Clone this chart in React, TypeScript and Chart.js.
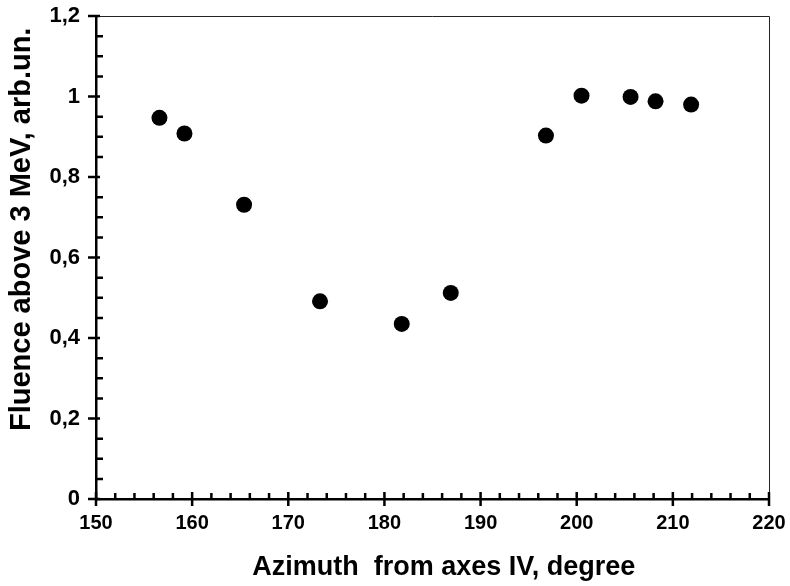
import React, { useEffect, useRef } from "react";
import { Chart, registerables } from "chart.js";

Chart.register(...registerables);

const azimuth = [156.6, 159.2, 165.4, 173.3, 181.8, 186.9, 196.8, 200.5, 205.6, 208.2, 211.9];
const fluence = [0.947, 0.908, 0.731, 0.491, 0.435, 0.512, 0.903, 1.002, 0.999, 0.988, 0.98];

const xMajorTicks = [150, 160, 170, 180, 190, 200, 210, 220];
const xMinorTicks = [
  152, 154, 156, 158, 162, 164, 166, 168, 172, 174, 176, 178, 182, 184, 186, 188,
  192, 194, 196, 198, 202, 204, 206, 208, 212, 214, 216, 218,
];
const yMajorTicks = [0, 0.2, 0.4, 0.6, 0.8, 1.0, 1.2];
const yMinorTicks = [
  0.05, 0.1, 0.15, 0.25, 0.3, 0.35, 0.45, 0.5, 0.55, 0.65, 0.7, 0.75, 0.85, 0.9, 0.95,
  1.05, 1.1, 1.15,
];
const yTickLabels = ["0", "0,2", "0,4", "0,6", "0,8", "1", "1,2"];
const xTickLabels = ["150", "160", "170", "180", "190", "200", "210", "220"];

const xTitle = "Azimuth  from axes IV, degree";
const yTitle = "Fluence above 3 MeV, arb.un.";

const FONT = "'Liberation Sans', Arial, Helvetica, sans-serif";

const tickPlugin = {
  id: "tickMarks",
  afterDraw(chart: any) {
    const { ctx, chartArea } = chart;
    const xs = chart.scales.x;
    const ys = chart.scales.y;
    ctx.save();
    ctx.strokeStyle = "#222";
    ctx.lineWidth = 1;
    ctx.beginPath();
    ctx.moveTo(chartArea.left, chartArea.top + 0.5);
    ctx.lineTo(chartArea.right + 0.5, chartArea.top + 0.5);
    ctx.lineTo(chartArea.right + 0.5, chartArea.bottom);
    ctx.stroke();

    ctx.strokeStyle = "#000";
    ctx.lineWidth = 2.5;
    const by = chartArea.bottom;
    const lx = chartArea.left;
    ctx.beginPath();
    xMajorTicks.forEach((v) => {
      const px = xs.getPixelForValue(v);
      ctx.moveTo(px, by - 7);
      ctx.lineTo(px, by + 7);
    });
    xMinorTicks.forEach((v) => {
      const px = xs.getPixelForValue(v);
      ctx.moveTo(px, by);
      ctx.lineTo(px, by - 6);
    });
    yMajorTicks.forEach((v) => {
      const py = ys.getPixelForValue(v);
      ctx.moveTo(lx - 8, py);
      ctx.lineTo(lx + 4, py);
    });
    yMinorTicks.forEach((v) => {
      const py = ys.getPixelForValue(v);
      ctx.moveTo(lx, py);
      ctx.lineTo(lx + 7, py);
    });
    ctx.stroke();
    ctx.restore();
  },
};

export default function App() {
  const canvasRef = useRef<HTMLCanvasElement | null>(null);

  useEffect(() => {
    document.body.style.margin = "0";
    const canvas = canvasRef.current;
    if (!canvas) return;
    const chart = new Chart(canvas, {
      type: "scatter",
      data: {
        datasets: [
          {
            data: azimuth.map((x, i) => ({ x, y: fluence[i] })),
            backgroundColor: "#000",
            borderColor: "#000",
            borderWidth: 0,
            pointRadius: 8,
            pointHoverRadius: 8,
            showLine: false,
          },
        ],
      },
      options: {
        animation: false,
        responsive: true,
        maintainAspectRatio: false,
        layout: { padding: { top: 16, right: 21, left: 0, bottom: 0 } },
        plugins: {
          legend: { display: false },
          tooltip: { enabled: false },
        },
        scales: {
          x: {
            type: "linear",
            min: 150,
            max: 220,
            afterFit: (s: any) => {
              s.height = 87;
              s.paddingLeft = 0;
              s.paddingRight = 0;
            },
            afterBuildTicks: (s: any) => {
              s.ticks = xMajorTicks.map((v) => ({ value: v }));
            },
            ticks: {
              color: "#000",
              font: { family: FONT, size: 20, weight: "bold" },
              padding: 12,
              maxRotation: 0,
              callback: (_v: any, i: number) => xTickLabels[i],
            },
            grid: { display: false, drawTicks: false },
            border: { display: true, color: "#000", width: 2.5 },
            title: {
              display: true,
              text: "   " + xTitle,
              color: "#000",
              font: { family: FONT, size: 27, weight: "bold" },
              padding: { top: 0, bottom: 2 },
            },
          },
          y: {
            type: "linear",
            min: 0,
            max: 1.2,
            afterFit: (s: any) => {
              s.width = 96;
              s.paddingTop = 0;
              s.paddingBottom = 0;
            },
            afterBuildTicks: (s: any) => {
              s.ticks = yMajorTicks.map((v) => ({ value: v }));
            },
            ticks: {
              color: "#000",
              font: { family: FONT, size: 22, weight: "bold" },
              padding: 16,
              callback: (_v: any, i: number) => yTickLabels[i],
            },
            grid: { display: false, drawTicks: false },
            border: { display: true, color: "#000", width: 2.5 },
            title: {
              display: true,
              text: "       " + yTitle,
              color: "#000",
              font: { family: FONT, size: 29, weight: "bold" },
              padding: { top: 5, bottom: 0 },
            },
          },
        },
      },
      plugins: [tickPlugin],
    });
    return () => chart.destroy();
  }, []);

  return (
    <div style={{ width: 790, height: 586, position: "relative", background: "#fff" }}>
      <canvas ref={canvasRef} />
    </div>
  );
}
